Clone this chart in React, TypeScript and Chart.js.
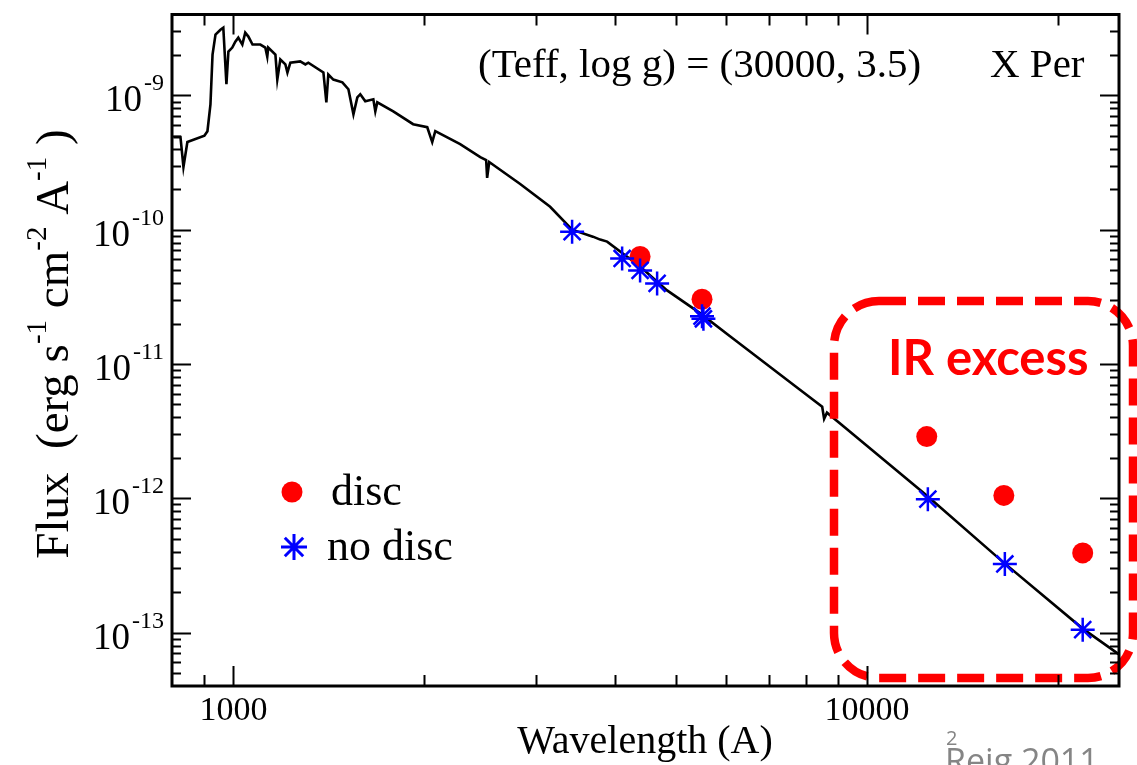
import React, { useEffect, useRef } from "react";
import { Chart, registerables } from "chart.js";

Chart.register(...registerables);

// ---------- data ----------
const spectrumWavelength = [
  804, 825, 834, 846, 900, 910, 920, 927, 937, 954, 964, 975, 982, 996, 1007, 1018,
  1033, 1044, 1056, 1072, 1103, 1123, 1131, 1135, 1165, 1173, 1186, 1208, 1217, 1230,
  1275, 1299, 1313, 1387, 1402, 1412, 1438, 1486, 1519, 1547, 1569, 1586, 1615, 1663,
  1675, 1687, 1788, 1922, 2023, 2060, 2083, 2280, 2453, 2506, 2515, 2534, 2836, 3162,
  3425, 3694, 3793, 3890, 4385, 4837, 5452, 6080, 7840, 8500, 8560, 8649, 9232, 12430,
  16390, 21910, 25000,
];
const spectrumFlux = [
  4.89e-10, 4.89e-10, 2.93e-10, 4.49e-10, 5.0e-10, 5.41e-10, 8.58e-10, 2.01e-9, 2.83e-9,
  3.08e-9, 3.19e-9, 1.21e-9, 2.12e-9, 2.27e-9, 2.51e-9, 2.69e-9, 2.39e-9, 2.93e-9, 2.74e-9,
  2.39e-9, 2.39e-9, 2.27e-9, 1.94e-9, 2.27e-9, 2.01e-9, 1.31e-9, 1.85e-9, 1.7e-9, 1.48e-9,
  1.75e-9, 1.79e-9, 1.7e-9, 1.75e-9, 1.48e-9, 8.87e-10, 1.43e-9, 1.31e-9, 1.25e-9, 1.11e-9,
  7.23e-10, 9.66e-10, 1.02e-9, 9.03e-10, 9.34e-10, 7.61e-10, 8.87e-10, 7.61e-10, 6.1e-10,
  5.79e-10, 4.49e-10, 5.41e-10, 4.34e-10, 3.47e-10, 3.3e-10, 2.43e-10, 3.19e-10, 2.19e-10,
  1.48e-10, 1.0e-10, 8.87e-11, 8.43e-11, 8.15e-11, 5.32e-11, 3.53e-11, 2.39e-11, 1.61e-11,
  6.42e-12, 4.8e-12, 3.9e-12, 4.34e-12, 3.36e-12, 1.05e-12, 3.36e-13, 1.07e-13, 6.87e-14,
];
const discWavelength = [4385, 5492, 12430, 16450, 21910];
const discFlux = [6.31e-11, 3.03e-11, 2.88e-12, 1.05e-12, 3.92e-13];
const noDiscWavelength = [3425, 4108, 4385, 4665, 5492, 5520, 12480, 16510, 21910];
const noDiscFlux = [9.66e-11, 6.1e-11, 4.97e-11, 3.98e-11, 2.27e-11, 2.17e-11, 9.84e-13, 3.24e-13, 1.05e-13];

const xMin = 800;
const xMax = 25000;
const yMin = 4e-14;
const yMax = 4e-9;
const xMajorTicks = [1000, 10000];
const xTickLabels = ["1000", "10000"];
const xMinorTicks = [900, 2000, 3000, 4000, 5000, 6000, 7000, 8000, 9000, 20000];
const yMajorExponents = [-9, -10, -11, -12, -13];
const yMinorDecades = [-14, -13, -12, -11, -10, -9];
const yMinorMultipliers = [2, 3, 4, 5, 6, 7, 8, 9];

const titleText = "(Teff, log g) = (30000, 3.5)";
const starText = "X Per";
const xTitle = "Wavelength (A)";
const yTitleParts: [string, boolean][] = [
  ["Flux  (erg s", false],
  ["-1", true],
  [" cm", false],
  ["-2", true],
  [" A", false],
  ["-1", true],
  [" )", false],
];
const legendLabels = ["disc", "no disc"];
const boxLabel = "IR excess";
const slideNumber = "2";
const citation = "Reig 2011";

const SERIF = "'Liberation Serif', 'Times New Roman', Times, serif";
const RED = "#ff0000";
const BLUE = "#0000ff";

function drawStar(ctx: CanvasRenderingContext2D, cx: number, cy: number, r: number) {
  ctx.beginPath();
  for (let k = 0; k < 4; k++) {
    const a = (k * Math.PI) / 4;
    const dx = Math.cos(a) * r;
    const dy = Math.sin(a) * r;
    ctx.moveTo(cx - dx, cy - dy);
    ctx.lineTo(cx + dx, cy + dy);
  }
  ctx.stroke();
}

const overlayPlugin = {
  id: "overlay",
  afterDatasetsDraw(chart: any) {
    const ctx: CanvasRenderingContext2D = chart.ctx;
    ctx.save();
    ctx.strokeStyle = RED;
    ctx.lineWidth = 8.5;
    ctx.setLineDash([27, 12]);
    ctx.beginPath();
    (ctx as any).roundRect(834, 301, 299, 377, 45);
    ctx.stroke();
    ctx.restore();
  },
  afterDraw(chart: any) {
    const ctx: CanvasRenderingContext2D = chart.ctx;
    const { left, right, top, bottom } = chart.chartArea;
    const xs = chart.scales.x;
    const ys = chart.scales.y;
    ctx.save();
    ctx.strokeStyle = "#000";
    ctx.lineWidth = 2;
    ctx.beginPath();
    xMajorTicks.forEach((v) => {
      const px = Math.round(xs.getPixelForValue(v)) + 0.5;
      ctx.moveTo(px, bottom);
      ctx.lineTo(px, bottom - 20);
      ctx.moveTo(px, top);
      ctx.lineTo(px, top + 20);
    });
    xMinorTicks.forEach((v) => {
      const px = Math.round(xs.getPixelForValue(v)) + 0.5;
      ctx.moveTo(px, bottom);
      ctx.lineTo(px, bottom - 11);
      ctx.moveTo(px, top);
      ctx.lineTo(px, top + 11);
    });
    yMajorExponents.forEach((e) => {
      const py = Math.round(ys.getPixelForValue(Math.pow(10, e))) + 0.5;
      ctx.moveTo(left, py);
      ctx.lineTo(left + 19, py);
      ctx.moveTo(right, py);
      ctx.lineTo(right - 19, py);
    });
    yMinorDecades.forEach((e) => {
      yMinorMultipliers.forEach((m) => {
        const v = m * Math.pow(10, e);
        if (v <= yMin || v >= yMax) return;
        const py = Math.round(ys.getPixelForValue(v)) + 0.5;
        ctx.moveTo(left, py);
        ctx.lineTo(left + 9, py);
        ctx.moveTo(right, py);
        ctx.lineTo(right - 9, py);
      });
    });
    ctx.stroke();
    ctx.lineWidth = 3;
    ctx.strokeRect(left, top, right - left, bottom - top);

    // tick labels
    ctx.fillStyle = "#000";
    ctx.textBaseline = "alphabetic";
    ctx.font = `34px ${SERIF}`;
    ctx.textAlign = "center";
    xMajorTicks.forEach((v, i) => {
      ctx.fillText(xTickLabels[i], xs.getPixelForValue(v), 720);
    });
    ctx.textAlign = "left";
    yMajorExponents.forEach((e) => {
      const py = ys.getPixelForValue(Math.pow(10, e));
      ctx.font = `24px ${SERIF}`;
      const sup = `-${-e}`;
      const ws = ctx.measureText(sup).width;
      ctx.font = `37px ${SERIF}`;
      const wb = ctx.measureText("10").width;
      const x0 = 164 - ws - wb - 2;
      ctx.fillText("10", x0, py + 16);
      ctx.font = `24px ${SERIF}`;
      ctx.fillText(sup, x0 + wb + 2, py - 5);
    });

    // title texts
    ctx.font = `41px ${SERIF}`;
    ctx.fillText(titleText, 478, 77);
    ctx.fillText(starText, 990, 77);

    // x title
    ctx.font = `40px ${SERIF}`;
    ctx.textAlign = "center";
    ctx.fillText(xTitle, 645, 753);
    ctx.textAlign = "left";

    // y title (rotated)
    const baseFs = 47;
    const supFs = 29;
    let total = 0;
    yTitleParts.forEach(([t, s]) => {
      ctx.font = `${s ? supFs : baseFs}px ${SERIF}`;
      total += ctx.measureText(t).width;
    });
    ctx.save();
    ctx.translate(68, 344 + total / 2);
    ctx.rotate(-Math.PI / 2);
    let cur = 0;
    yTitleParts.forEach(([t, s]) => {
      ctx.font = `${s ? supFs : baseFs}px ${SERIF}`;
      ctx.fillText(t, cur, s ? -22 : 0);
      cur += ctx.measureText(t).width;
    });
    ctx.restore();

    // legend
    ctx.fillStyle = RED;
    ctx.beginPath();
    ctx.arc(292, 492, 10.5, 0, Math.PI * 2);
    ctx.fill();
    ctx.strokeStyle = BLUE;
    ctx.lineWidth = 3;
    drawStar(ctx, 294, 547, 13);
    ctx.fillStyle = "#000";
    ctx.font = `44px ${SERIF}`;
    ctx.fillText(legendLabels[0], 331, 505);
    ctx.fillText(legendLabels[1], 327, 560);

    // IR excess label
    ctx.fillStyle = RED;
    ctx.font = `bold 49px Lato, 'Open Sans', sans-serif`;
    ctx.fillText(boxLabel, 888, 375);

    // slide footer
    ctx.fillStyle = "#858585";
    ctx.font = `20px 'Open Sans', sans-serif`;
    ctx.fillText(slideNumber, 946, 745);
    ctx.font = `34px 'Open Sans', sans-serif`;
    ctx.fillText(citation, 945, 773);
    ctx.restore();
  },
};

export default function App() {
  const canvasRef = useRef<HTMLCanvasElement | null>(null);
  useEffect(() => {
    const canvas = canvasRef.current;
    if (!canvas) return;
    const chart = new Chart(canvas, {
      type: "scatter",
      data: {
        datasets: [
          {
            label: "model",
            data: spectrumWavelength.map((x, i) => ({ x, y: spectrumFlux[i] })),
            showLine: true,
            borderColor: "#000",
            borderWidth: 2.6,
            pointRadius: 0,
            tension: 0,
            order: 3,
          },
          {
            label: legendLabels[0],
            data: discWavelength.map((x, i) => ({ x, y: discFlux[i] })),
            pointStyle: "circle",
            pointRadius: 10.5,
            backgroundColor: RED,
            borderWidth: 0,
            order: 2,
          },
          {
            label: legendLabels[1],
            data: noDiscWavelength.map((x, i) => ({ x, y: noDiscFlux[i] })),
            pointStyle: "star",
            pointRadius: 12,
            borderColor: BLUE,
            backgroundColor: BLUE,
            borderWidth: 2.5,
            order: 1,
          },
        ],
      },
      options: {
        animation: false,
        responsive: false,
        devicePixelRatio: 1,
        events: [],
        layout: { padding: { left: 172, right: 18, top: 10, bottom: 79 } },
        scales: {
          x: { type: "logarithmic", min: xMin, max: xMax, display: false },
          y: { type: "logarithmic", min: yMin, max: yMax, display: false },
        },
        plugins: { legend: { display: false }, tooltip: { enabled: false } },
      },
      plugins: [overlayPlugin],
    });
    return () => chart.destroy();
  }, []);
  return (
    <div style={{ position: "absolute", left: 0, top: 0, width: 1137, height: 765, background: "#fff" }}>
      <canvas ref={canvasRef} width={1137} height={765} style={{ display: "block" }} />
    </div>
  );
}
